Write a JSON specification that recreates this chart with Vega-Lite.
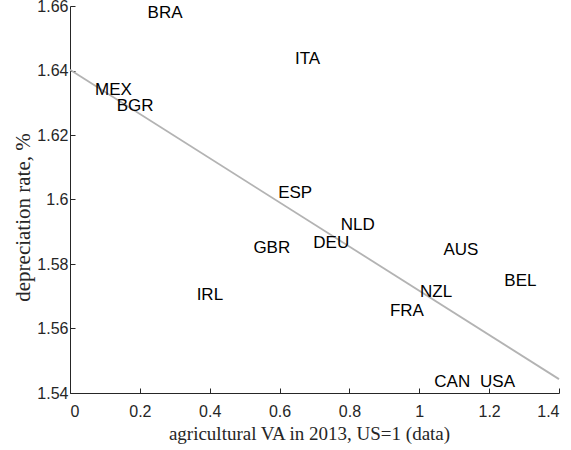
{
  "$schema": "https://vega.github.io/schema/vega-lite/v6.json",
  "width": 489,
  "height": 387,
  "autosize": {"type": "none"},
  "padding": {"left": 70, "top": 6, "right": 12, "bottom": 57},
  "config": {
    "view": {"stroke": null},
    "axis": {
      "grid": false,
      "domainColor": "#262626",
      "domainWidth": 1,
      "tickColor": "#262626",
      "tickSize": -5,
      "labelFont": "Liberation Sans",
      "labelFontSize": 16,
      "labelColor": "#262626",
      "titleFont": "Liberation Serif",
      "titleFontSize": 18,
      "titleFontWeight": "normal",
      "titleColor": "#262626"
    }
  },
  "datasets": {
    "pts": [
      {"country": "BRA", "va": 0.222, "dep": 1.6579},
      {"country": "ITA", "va": 0.644, "dep": 1.6436},
      {"country": "MEX", "va": 0.0716, "dep": 1.6338},
      {"country": "BGR", "va": 0.1336, "dep": 1.6291},
      {"country": "ESP", "va": 0.596, "dep": 1.602},
      {"country": "NLD", "va": 0.775, "dep": 1.5922},
      {"country": "DEU", "va": 0.6966, "dep": 1.5865},
      {"country": "GBR", "va": 0.525, "dep": 1.585},
      {"country": "AUS", "va": 1.069, "dep": 1.5843},
      {"country": "BEL", "va": 1.2434, "dep": 1.5748},
      {"country": "NZL", "va": 1.002, "dep": 1.5713},
      {"country": "IRL", "va": 0.3626, "dep": 1.5705},
      {"country": "FRA", "va": 0.916, "dep": 1.5653},
      {"country": "CAN", "va": 1.043, "dep": 1.5435},
      {"country": "USA", "va": 1.174, "dep": 1.5435}
    ],
    "fit": [
      {"va": 0, "dep": 1.6402},
      {"va": 1.4, "dep": 1.5443}
    ]
  },
  "layer": [
    {
      "data": {"name": "fit"},
      "mark": {"type": "line", "color": "#b3b3b3", "strokeWidth": 1.8},
      "encoding": {
        "x": {
          "field": "va", "type": "quantitative",
          "scale": {"domain": [0, 1.4], "nice": false, "zero": false},
          "axis": {"values": [0, 0.2, 0.4, 0.6, 0.8, 1, 1.2, 1.4], "format": ".1~f", "labelPadding": 15, "title": "agricultural VA in 2013, US=1 (data)", "titleFontSize": 19, "titlePadding": 5, "titleX": 239}
        },
        "y": {
          "field": "dep", "type": "quantitative",
          "scale": {"domain": [1.54, 1.66], "nice": false, "zero": false},
          "axis": {"values": [1.54, 1.56, 1.58, 1.6, 1.62, 1.64, 1.66], "format": ".2~f", "labelPadding": 7, "title": "depreciation rate, %", "titleFontSize": 21, "titlePadding": 3, "titleY": 211}
        }
      }
    },
    {
      "data": {"name": "pts"},
      "mark": {"type": "text", "align": "left", "baseline": "middle", "font": "Liberation Sans", "fontSize": 17, "color": "#000000"},
      "encoding": {
        "x": {"field": "va", "type": "quantitative"},
        "y": {"field": "dep", "type": "quantitative"},
        "text": {"field": "country"}
      }
    }
  ]
}
